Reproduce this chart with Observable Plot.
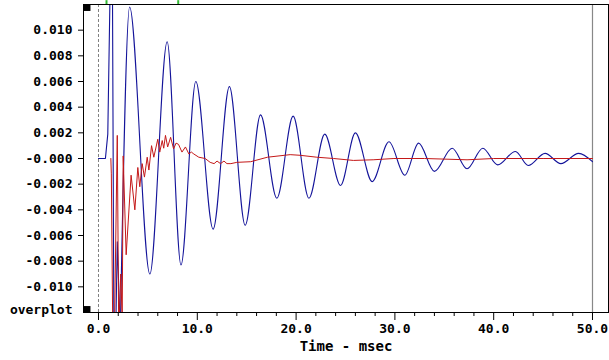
<!DOCTYPE html>
<html>
<head>
<meta charset="utf-8">
<script src="https://cdn.jsdelivr.net/npm/d3@7"></script>
<script src="https://cdn.jsdelivr.net/npm/@observablehq/plot@0.6"></script>
<style>
  html, body { margin: 0; padding: 0; background: #fff; }
</style>
</head>
<body>
<div id="chart"></div>
<script>
// ---- data (time in msec, amplitude) ----
const blueEarlyT = [0, 0.7, 0.94, 1.15, 1.3, 1.42, 1.55, 1.65, 1.9, 2.2];
const blueEarlyV = [0, 0, 0.0019, 0.012, 0.02, 0.012, -0.012, -0.018, -0.0065, -0.0135];

const blueT = [2.2, 3.15, 5.2, 6.95, 8.35, 9.85, 11.6, 13.25, 14.85, 16.4, 18.05, 19.7, 21.3, 22.9, 24.5, 26.0, 27.7, 29.4, 31.0, 32.4, 34.0, 35.8, 37.3, 38.9, 40.4, 42.2, 43.5, 45.2, 46.8, 48.6, 50.0];
const blueV = [-0.0135, 0.0118, -0.0090, 0.0091, -0.0083, 0.0060, -0.0055, 0.0056, -0.0052, 0.0034, -0.0031, 0.0033, -0.0031, 0.0019, -0.0021, 0.0020, -0.0018, 0.0013, -0.0013, 0.0012, -0.0010, 0.0008, -0.0008, 0.0008, -0.0005, 0.00055, -0.00055, 0.0004, -0.0004, 0.0004, -0.00025];

const redT = [1.25, 1.3, 1.45, 1.6, 1.9, 2.05, 2.25, 2.4, 2.5, 2.8, 3.3, 3.68, 3.98, 4.18, 4.42, 4.65, 4.93, 5.1, 5.37, 5.6, 6.0, 6.2, 6.45, 6.6, 6.78, 7.0, 7.3, 7.6, 7.85, 8.1, 8.45, 8.8, 9.15, 9.4, 9.65, 10.15, 10.8, 11.3, 11.7, 12.0, 12.35, 12.7, 13.0, 13.4, 14.0, 15.4, 17.1, 19.4, 20.4, 22.1, 23.8, 25.8, 27.8, 29.9, 33.0, 37.3, 40.0, 45.0, 50.0];
const redV = [0, -0.0012, -0.014, -0.014, 0.0018, -0.014, -0.009, -0.0125, 0.0002, -0.0075, -0.0013, -0.004, -0.0007, -0.0022, -0.0004, -0.00145, 0.0001, -0.0009, 0.001, 0.0001, 0.0015, 0.0005, 0.0014, 0.0008, 0.0018, 0.0009, 0.00165, 0.00075, 0.0012, 0.0011, 0.0005, 0.0009, 0.00035, 0.0005, 0.00035, 0.0001, 0, -0.0003, -0.0004, -0.0002, -0.0004, -0.0002, -0.0004, -0.0004, -0.0003, -0.00025, 0.0001, 0.0003, 0.00025, 0.0001, 0, -0.00015, -0.0001, 0, 0, -0.0001, 0, 0, 0];

const markerT = [0.81, 8.07];

const yTicks = [0.010, 0.008, 0.006, 0.004, 0.002, 0, -0.002, -0.004, -0.006, -0.008, -0.010];
const yTickLabels = ["0.010", "0.008", "0.006", "0.004", "0.002", "-0.000", "-0.002", "-0.004", "-0.006", "-0.008", "-0.010"];
const xTicks = [0, 10, 20, 30, 40, 50];
const xTickLabels = ["0.0", "10.0", "20.0", "30.0", "40.0", "50.0"];
const xMinorTicks = [2, 4, 6, 8, 12, 14, 16, 18, 22, 24, 26, 28, 32, 34, 36, 38, 42, 44, 46, 48];

const xDomain = [-1.518, 51.62];
const yDomain = [-0.012, 0.012];

const blueEarly = blueEarlyT.map((t, i) => ({t, v: blueEarlyV[i]}));
const blue = blueT.map((t, i) => ({t, v: blueV[i]}));
const red = redT.map((t, i) => ({t, v: redV[i]}));

const BLUE = "#14149a";
const RED = "#c41818";

const chart = Plot.plot({
  width: 609,
  height: 360,
  marginLeft: 83,
  marginRight: 1,
  marginTop: 4,
  marginBottom: 48,
  style: {fontFamily: "'DejaVu Sans Mono', monospace", fontSize: "13px", fontWeight: "bold", color: "black", background: "white"},
  x: {domain: xDomain},
  y: {domain: yDomain},
  marks: [
    Plot.ruleX([0], {stroke: "#808080", strokeDasharray: "3,2"}),
    Plot.ruleX([50], {stroke: "#888888", strokeWidth: 1.2}),
    Plot.line(blueEarly, {x: "t", y: "v", stroke: BLUE, strokeWidth: 1.1, clip: true}),
    Plot.line(blue, {x: "t", y: "v", stroke: BLUE, strokeWidth: 1.1, curve: "monotone-x", clip: true}),
    Plot.line(red, {x: "t", y: "v", stroke: RED, strokeWidth: 1, clip: true}),
    Plot.frame({stroke: "black"}),
    Plot.axisY(yTicks, {tickSize: 5, tickPadding: 6, tickFormat: d => yTickLabels[yTicks.indexOf(d)], label: null}),
    Plot.axisX(xTicks, {tickSize: 8, tickPadding: 3, tickFormat: d => xTickLabels[xTicks.indexOf(d)], label: null}),
    Plot.axisX(xMinorTicks, {tickSize: 4, tickFormat: () => "", label: null}),
    Plot.text(["overplot"], {x: xDomain[0], y: yDomain[0], dx: -11, dy: -3, textAnchor: "end", fill: "black"}),
    Plot.text(["Time - msec"], {frameAnchor: "bottom", dy: 38, fontSize: 14, fill: "black"}),
    Plot.dot([0], {x: xDomain[0], y: yDomain[1], dx: 3.5, dy: 3, symbol: "square", r: 3.9, fill: "black", stroke: null}),
    Plot.dot([0], {x: xDomain[0], y: yDomain[0], dx: 3.5, dy: -3, symbol: "square", r: 3.9, fill: "black", stroke: null}),
    Plot.ruleX(markerT, {y1: 0.012, y2: 0.0123, stroke: "#33bb33", strokeWidth: 2})
  ]
});
document.getElementById("chart").appendChild(chart);
</script>
</body>
</html>
